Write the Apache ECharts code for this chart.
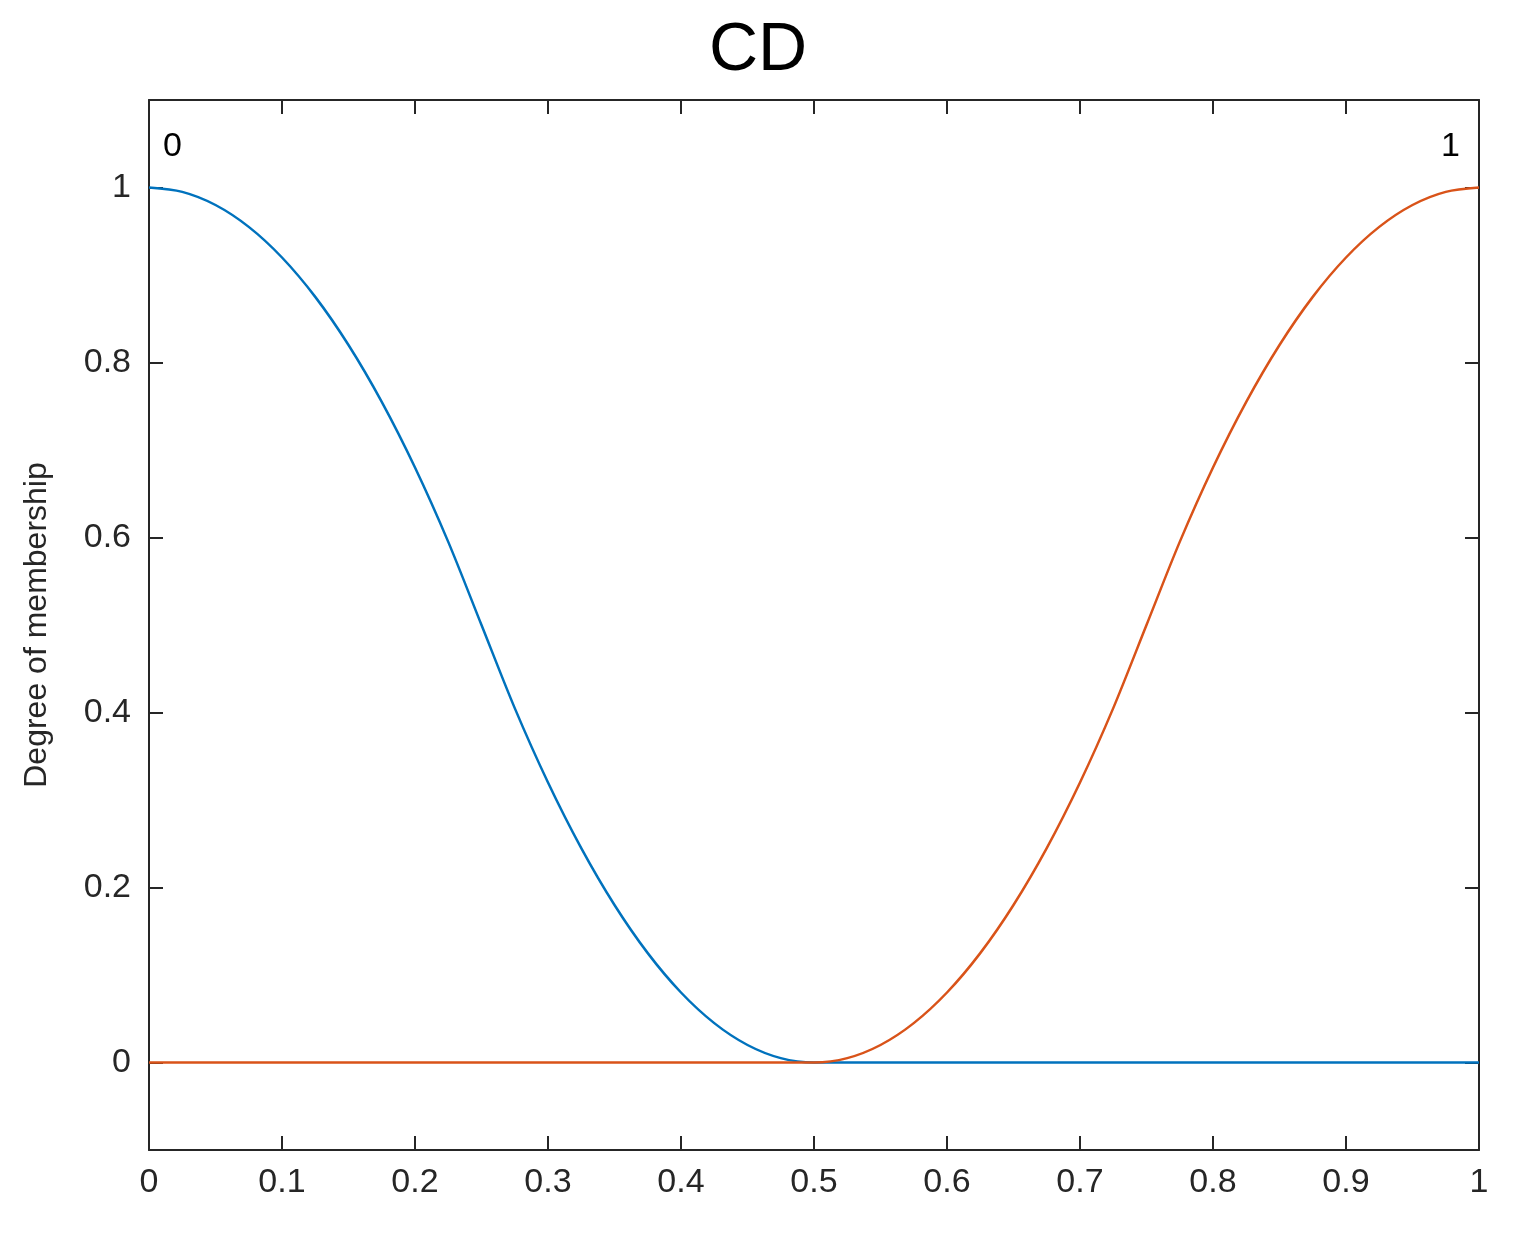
<!DOCTYPE html>
<html>
<head>
<meta charset="utf-8">
<script src="https://cdn.jsdelivr.net/npm/echarts@6/dist/echarts.min.js"></script>
<style>html,body{margin:0;padding:0;background:#fff}#main{width:1516px;height:1240px}</style>
</head>
<body>
<div id="main"></div>
<script>
// values
var xs = [0, 0.025, 0.05, 0.075, 0.1, 0.125, 0.15, 0.175, 0.2, 0.225, 0.25, 0.275, 0.3, 0.325, 0.35, 0.375, 0.4, 0.425, 0.45, 0.475, 0.5, 1];
var zeroValues = [1, 0.995, 0.98, 0.955, 0.92, 0.875, 0.82, 0.755, 0.68, 0.595, 0.5, 0.405, 0.32, 0.245, 0.18, 0.125, 0.08, 0.045, 0.02, 0.005, 0, 0];
var xsOne = [0, 0.5, 0.525, 0.55, 0.575, 0.6, 0.625, 0.65, 0.675, 0.7, 0.725, 0.75, 0.775, 0.8, 0.825, 0.85, 0.875, 0.9, 0.925, 0.95, 0.975, 1];
var oneValues = [0, 0, 0.005, 0.02, 0.045, 0.08, 0.125, 0.18, 0.245, 0.32, 0.405, 0.5, 0.595, 0.68, 0.755, 0.82, 0.875, 0.92, 0.955, 0.98, 0.995, 1];
var yTicks = [0, 0.2, 0.4, 0.6, 0.8, 1];
var mfNames = ["0", "1"];

var chart = echarts.init(document.getElementById("main"));
var font = "Arial, 'Liberation Sans', sans-serif";
function pairs(a, b) { return a.map(function (x, i) { return [x, b[i]]; }); }

var line = { show: true, onZero: false, lineStyle: { color: "#262626", width: 2 } };
var tick = { show: true, inside: true, length: 14, lineStyle: { color: "#262626", width: 2 } };
var yTick = Object.assign({ customValues: yTicks }, tick);
var label = { fontSize: 34, color: "#262626", fontFamily: font };

chart.setOption({
  animation: false,
  title: { text: "CD", left: 753, top: 12, textAlign: "center", textStyle: { fontSize: 68, fontWeight: "normal", color: "#000", fontFamily: font } },
  grid: { left: 149, right: 37, top: 100, bottom: 90 },
  xAxis: [
    { type: "value", min: 0, max: 1, interval: 0.1, axisLine: line, axisTick: tick, splitLine: { show: false },
      axisLabel: Object.assign({ margin: 16, formatter: function (v) { return +v.toFixed(1) + ""; } }, label) },
    { type: "value", position: "top", min: 0, max: 1, interval: 0.1, axisLine: line, axisTick: tick, axisLabel: { show: false }, splitLine: { show: false } }
  ],
  yAxis: [
    { type: "value", min: -0.1, max: 1.1, position: "left", axisLine: line, axisTick: yTick, splitLine: { show: false },
      axisLabel: Object.assign({ customValues: yTicks, margin: 18, formatter: function (v) { return +v.toFixed(1) + ""; } }, label),
      name: "Degree of membership", nameLocation: "middle", nameGap: 96, nameTextStyle: { fontSize: 32, color: "#262626", fontFamily: font } },
    { type: "value", min: -0.1, max: 1.1, position: "right", axisLine: line, axisTick: yTick, axisLabel: { show: false }, splitLine: { show: false } }
  ],
  graphic: [
    { type: "text", left: 163, top: 130, style: { text: mfNames[0], fontSize: 34, fill: "#000", fontFamily: font } },
    { type: "text", left: 1441, top: 130, style: { text: mfNames[1], fontSize: 34, fill: "#000", fontFamily: font } }
  ],
  series: [
    { type: "line", data: pairs(xs, zeroValues), smooth: 0.3, showSymbol: false, lineStyle: { color: "#0072BD", width: 2.5 } },
    { type: "line", data: pairs(xsOne, oneValues), smooth: 0.3, showSymbol: false, lineStyle: { color: "#D95319", width: 2.5 } }
  ]
});
</script>
</body>
</html>
